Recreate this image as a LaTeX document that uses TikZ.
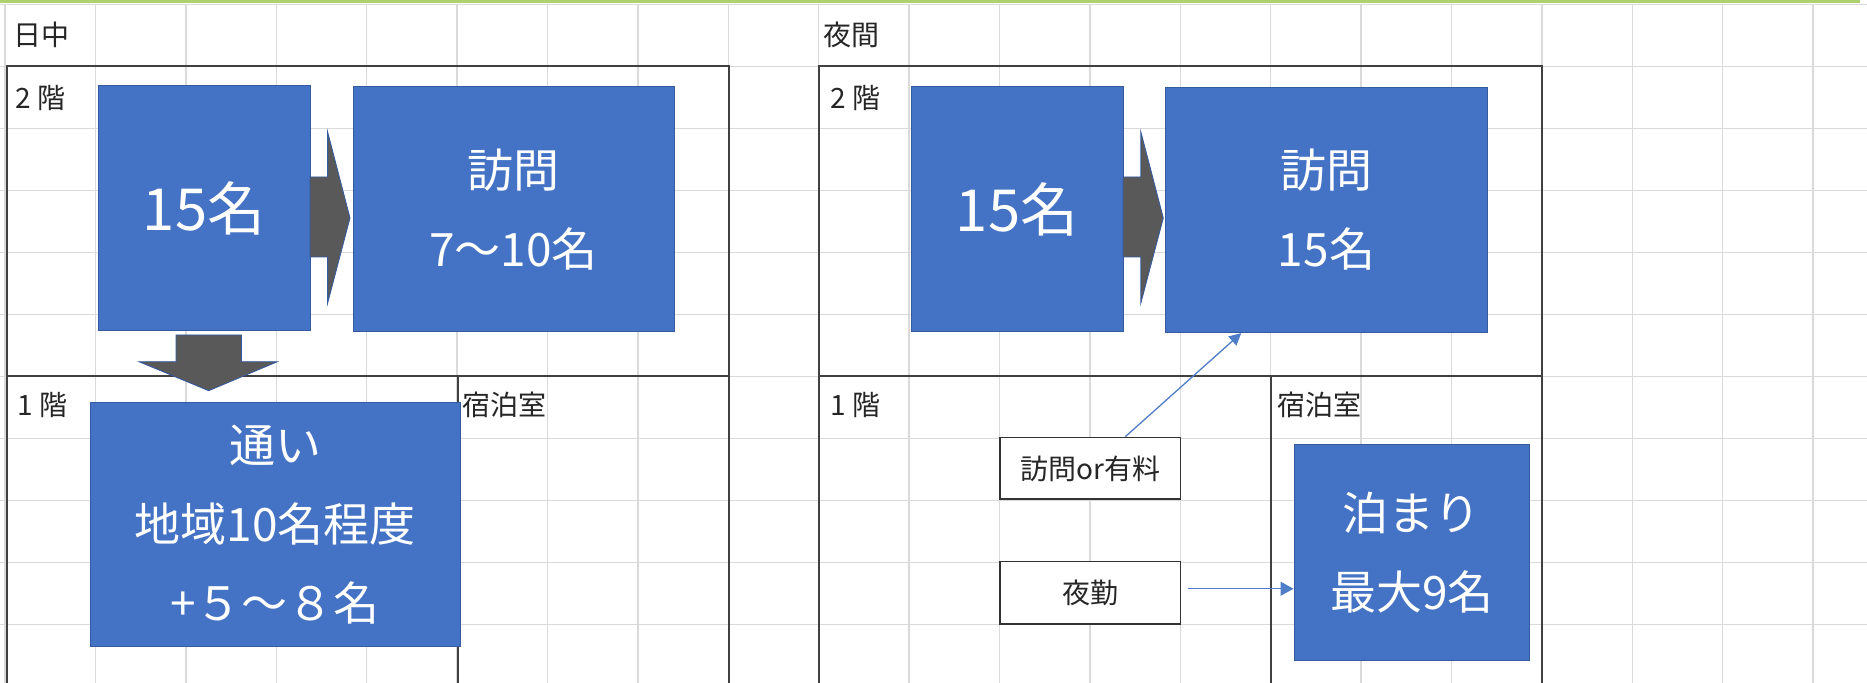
\documentclass[tikz,border=0pt]{standalone}
\usepackage{fontspec}
\setmainfont{Noto Sans CJK JP}
\usetikzlibrary{calc,arrows.meta}
\definecolor{gridc}{RGB}{218,218,218}
\definecolor{blueF}{RGB}{68,114,196}
\definecolor{blueD}{RGB}{52,90,160}
\definecolor{arrowG}{RGB}{89,89,89}
\definecolor{frameC}{RGB}{64,64,64}
\definecolor{topG}{RGB}{172,209,110}
\definecolor{connC}{RGB}{80,125,200}
\begin{document}
\begin{tikzpicture}[x=0.5pt,y=-0.5pt,
  gridl/.style={draw=gridc,line width=0.7pt},
  framel/.style={draw=frameC,line width=1pt},
  bbox/.style={rectangle,fill=blueF,draw=blueD,line width=0.5pt,text=white,inner sep=0pt,align=center},
  wbox/.style={rectangle,fill=white,draw=black!80,line width=0.8pt,inner sep=0pt,text=black!85,font=\fontsize{14}{16}\selectfont},
  lbl/.style={inner sep=0pt,anchor=west,text=black!85,font=\fontsize{14}{16}\selectfont},
  txtmid/.style={font=\fontsize{23}{39.5}\selectfont},
  txtbig/.style={font=\fontsize{29}{35}\selectfont},
  blk/.style={fill=arrowG,draw=blueD,line width=0.4pt},
  conn/.style={draw=connC,line width=0.65pt}
]
\useasboundingbox (0,0) rectangle (1867,683);
\clip (0,0) rectangle (1867,683);
\fill[white] (0,0) rectangle (1867,683);
% grid
\foreach \k in {0,...,20} \draw[gridl] ({5+90.4*\k},4.5) -- ({5+90.4*\k},690);
\foreach \j in {0,...,10} \draw[gridl] (0,{4.5+62*\j}) -- (1867,{4.5+62*\j});
% top green bar
\fill[topG] (0,0) rectangle (1860,3.3);
% frames
\draw[framel] (7,690) -- (7,66.5) -- (729,66.5) -- (729,690);
\draw[framel] (7,376.5) -- (729,376.5);
\draw[framel] (458,376.5) -- (458,690);
\draw[framel] (819,690) -- (819,66.5) -- (1542,66.5) -- (1542,690);
\draw[framel] (819,376.5) -- (1542,376.5);
\draw[framel] (1270.5,376.5) -- (1270.5,690);
% labels
\node[lbl] (lday) at (13,35) {日中};
\node[lbl] (lnight) at (823,35) {夜間};
\node[lbl] (l2a) at (15,98) {2 階};
\node[lbl] (l2b) at (830,98) {2 階};
\node[lbl] (l1a) at (17,405) {1 階};
\node[lbl] (l1b) at (830,405) {1 階};
\node[lbl] (lsa) at (462,405) {宿泊室};
\node[lbl] (lsb) at (1277,405) {宿泊室};
% day boxes
\node[bbox,txtbig,minimum width=106pt,minimum height=122.5pt] (A) at (204,208.5) {15名};
\node[bbox,txtmid,minimum width=160.5pt,minimum height=122.5pt] (B) at (513.5,209.5) {訪問\\7～10名};
\node[bbox,txtmid,minimum width=185pt,minimum height=122pt] (C) at (275,524.5) {通い\\地域10名程度\\+５～８名};
% day block arrows
\draw[blk] (310,177) -- (327.6,177) -- (327.6,131.7) -- (350,218) -- (327.6,303.3) -- (327.6,257) -- (310,257) -- cycle;
\draw[blk] (176,335) -- (241.5,335) -- (241.5,361.7) -- (277.4,361.7) -- (208.7,390.7) -- (139,361.7) -- (176,361.7) -- cycle;
% night boxes
\node[bbox,txtbig,minimum width=106pt,minimum height=122.4pt] (D) at (1017,209.3) {15名};
\node[bbox,txtmid,minimum width=161pt,minimum height=122.6pt] (E) at (1326.5,210) {訪問\\15名};
\draw[blk] (1123,177) -- (1140.8,177) -- (1140.8,131.7) -- (1163.3,218) -- (1140.8,303.3) -- (1140.8,257) -- (1123,257) -- cycle;
\node[wbox,minimum width=90.25pt,minimum height=30.9pt] (F) at (1090.25,468.4) {訪問or有料};
\node[wbox,minimum width=90.25pt,minimum height=31.25pt] (G) at (1090.25,592.75) {夜勤};
\node[bbox,txtmid,minimum width=117.75pt,minimum height=107.75pt] (H) at (1411.75,552.75) {泊まり\\最大9名};
% connectors
\draw[conn,-{Triangle[length=6pt,width=6pt]}] ($(F.north west)!0.6925!(F.north east)$) -- ($(E.south west)!0.236!(E.south east)$);
\draw[conn,-{Triangle[length=6.5pt,width=7pt]}] ($(G.east)+(6.5,-4)$) coordinate (gs) -- (gs -| H.west);
\end{tikzpicture}
\end{document}
